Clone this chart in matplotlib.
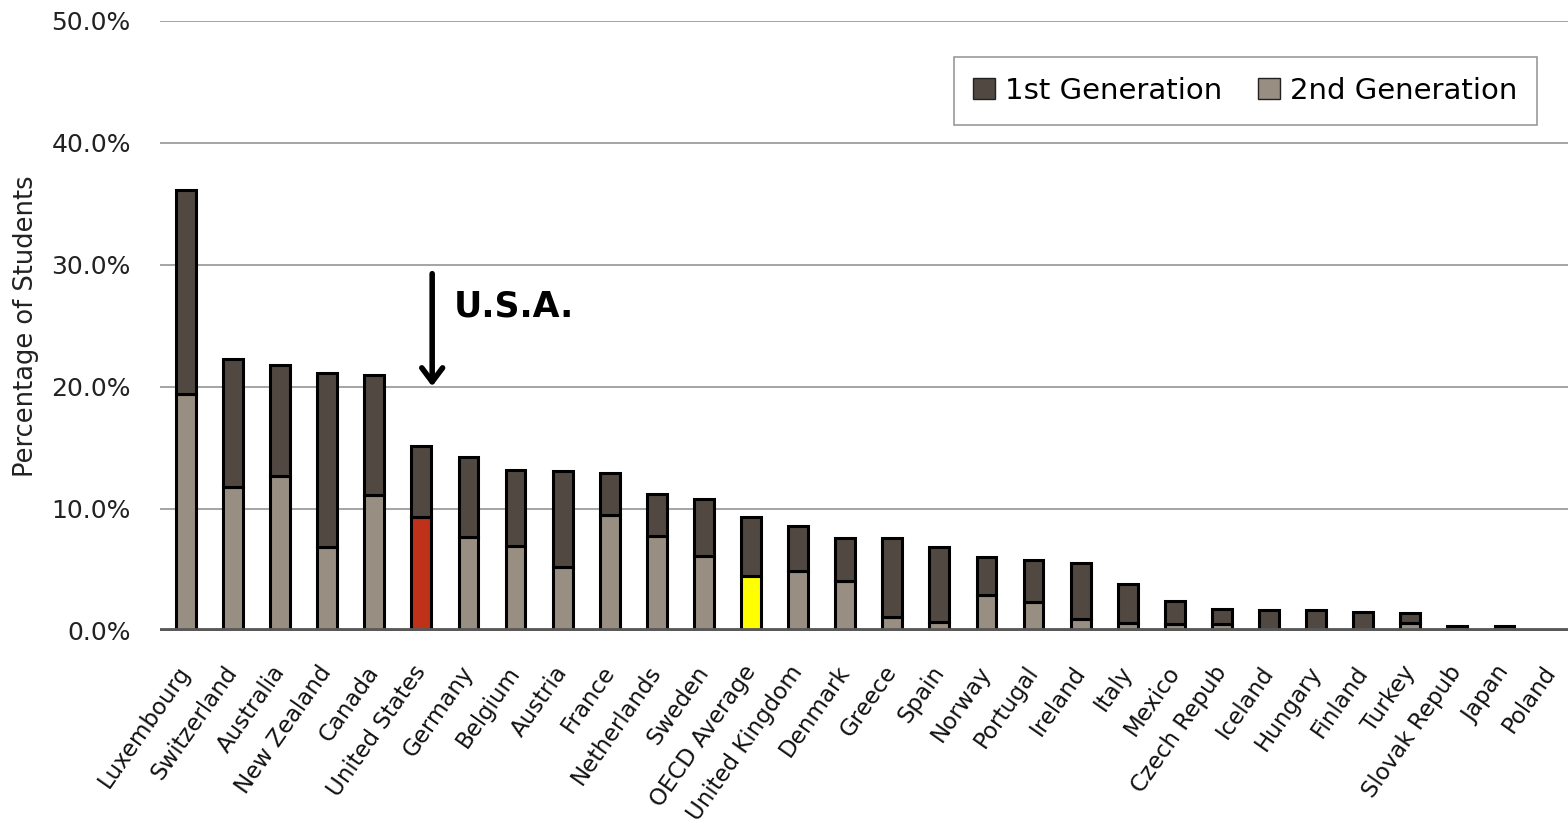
import numpy as np
import matplotlib
matplotlib.use("Agg")
import matplotlib.pyplot as plt
from matplotlib.patches import Patch

countries = ["Luxembourg", "Switzerland", "Australia", "New Zealand", "Canada",
             "United States", "Germany", "Belgium", "Austria", "France",
             "Netherlands", "Sweden", "OECD Average", "United Kingdom", "Denmark",
             "Greece", "Spain", "Norway", "Portugal", "Ireland", "Italy", "Mexico",
             "Czech Repub", "Iceland", "Hungary", "Finland", "Turkey",
             "Slovak Repub", "Japan", "Poland"]

# share of students, in percent
second_gen = [19.4, 11.8, 12.7, 6.85, 11.1, 9.3, 7.7, 6.9, 5.2, 9.5,
              7.75, 6.1, 4.45, 4.9, 4.05, 1.1, 0.7, 2.9, 2.3, 0.95, 0.6, 0.55,
              0.55, 0.0, 0.0, 0.0, 0.65, 0.0, 0.0, 0.0]
total = [36.1, 22.25, 21.8, 21.15, 21.0, 15.1, 14.2, 13.2, 13.1, 12.95,
         11.2, 10.8, 9.3, 8.6, 7.6, 7.6, 6.85, 6.0, 5.75, 5.55, 3.8, 2.45,
         1.8, 1.7, 1.7, 1.5, 1.4, 0.35, 0.35, 0.0]
first_gen = [t - s for t, s in zip(total, second_gen)]

DARK = "#504841"
LIGHT = "#998e82"

plt.rcParams["font.family"] = ["DejaVu Sans"]

fig = plt.figure(figsize=(15.68, 8.36), dpi=100)
ax = fig.add_axes([160 / 1568, 1 - 630.5 / 836, 1408 / 1568, 609.5 / 836])

x = np.arange(len(countries))
base_colors = [LIGHT] * len(countries)
base_colors[countries.index("United States")] = "#c0311a"
base_colors[countries.index("OECD Average")] = "#ffff00"

ax.bar(x, second_gen, width=0.42, color=base_colors, edgecolor="black",
       linewidth=2.2, zorder=3)
ax.bar(x, first_gen, width=0.42, bottom=second_gen, color=DARK,
       edgecolor="black", linewidth=2.2, zorder=3)

ax.set_xlim(-0.55, 29.35)
ax.set_ylim(0, 50)
ax.set_yticks(np.arange(0, 51, 10))
ax.set_yticklabels(["%.1f%%" % v for v in np.arange(0, 51, 10)], fontsize=18,
                   color="#222222")
ax.yaxis.grid(True, color="#8c8c8c", linewidth=1.1, zorder=0)
ax.tick_params(axis="y", length=0, pad=21)
ax.axhline(0, color="#595959", linewidth=4.2, zorder=4)
for s in ax.spines.values():
    s.set_visible(False)

ax.set_xticks(x)
ax.set_xticklabels(countries, rotation=55, ha="right", va="center",
                   rotation_mode="anchor", fontsize=16.5, color="#111111")
ax.tick_params(axis="x", length=0, pad=27)

ax.set_ylabel("Percentage of Students", fontsize=18.5, color="#222222",
              labelpad=9)

# arrow pointing at the U.S. bar
ax.annotate("", xy=(5.23, 19.8), xytext=(5.23, 29.5),
            arrowprops=dict(arrowstyle="->,head_length=1.0,head_width=0.75",
                            color="black", lw=4))
ax.text(5.68, 26.6, "U.S.A.", fontsize=25, fontweight="bold", va="center",
        ha="left")

handles = [Patch(facecolor=DARK, edgecolor="#222222", label="1st Generation"),
           Patch(facecolor=LIGHT, edgecolor="#222222", label="2nd Generation")]
leg = fig.legend(handles=handles, ncol=2, loc="upper right",
                 bbox_to_anchor=(1537 / 1568, 1 - 57 / 836), fontsize=21,
                 frameon=True, fancybox=False, edgecolor="#808080",
                 handlelength=0.75, handleheight=0.75, handletextpad=0.35,
                 columnspacing=1.2, borderpad=0.68, borderaxespad=0)
leg.get_frame().set_linewidth(1.2)

fig.savefig("out.png", dpi=100)
